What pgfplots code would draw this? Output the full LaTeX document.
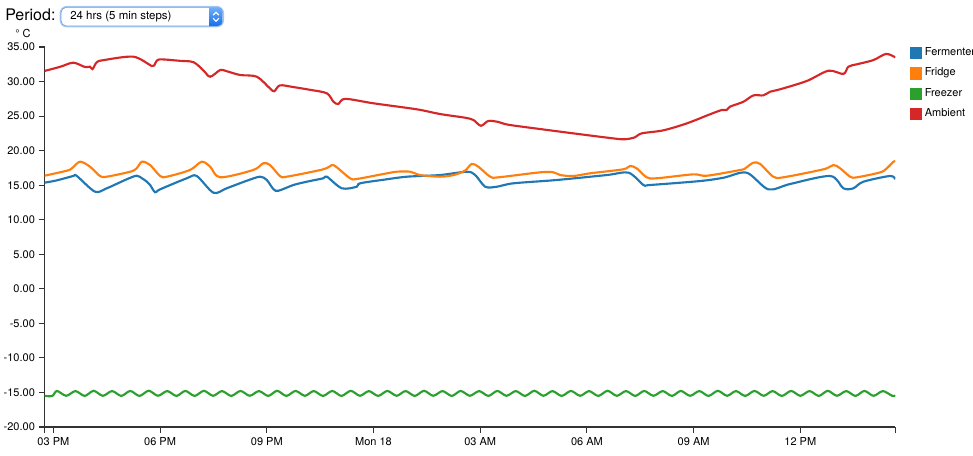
\documentclass[border=0pt]{standalone}
\usepackage{fontspec}
\setmainfont{TeX Gyre Heros}
\usepackage{pgfplots}
\pgfplotsset{compat=1.18}
\definecolor{cBlue}{HTML}{1F77B4}
\definecolor{cOrange}{HTML}{FF7F0E}
\definecolor{cGreen}{HTML}{2CA02C}
\definecolor{cRed}{HTML}{D62728}
\definecolor{axisgray}{HTML}{333333}
\newcommand{\px}{\fontsize{8.25pt}{9.9pt}\selectfont}
\begin{document}
\begin{tikzpicture}[x=0.75pt,y=0.75pt]
% Period selector
\node[anchor=base west, inner sep=0pt, font=\fontsize{12pt}{14pt}\selectfont] at (5,434.3) {Period:};
\draw[rounded corners=4.5pt, line width=2.2pt, color={rgb,255:red,170;green,205;blue,245}] (61,429) rectangle (222.7,447.7);
\fill[white, rounded corners=4pt] (61,429) rectangle (222.7,447.7);
\draw[rounded corners=4pt, line width=0.5pt, color={rgb,255:red,110;green,160;blue,225}] (61,429) rectangle (222.7,447.7);
\begin{scope}
\clip[rounded corners=4pt] (61,429) rectangle (222.7,447.7);
\shade[top color={rgb,255:red,110;green,175;blue,250}, bottom color={rgb,255:red,20;green,110;blue,235}] (209,429) rectangle (222.7,447.7);
\end{scope}
\draw[white, line width=0.9pt, line cap=round, line join=round] (213.3,440)--(216,442.8)--(218.7,440);
\draw[white, line width=0.9pt, line cap=round, line join=round] (213.3,436.6)--(216,433.8)--(218.7,436.6);
\node[anchor=base west, inner sep=0pt, font=\fontsize{8.6pt}{10pt}\selectfont] at (70,436) {24 hrs (5 min steps)};
% unit
\node[anchor=base west, inner sep=0pt, font=\px] at (15,418) {° C};
\coordinate (AxisSW) at (44.5,28);
\begin{axis}[
  at={(AxisSW)}, anchor=south west,
  scale only axis, width=638.1pt, height=285pt,
  xmin=-0.25, xmax=23.67, ymin=-20, ymax=35,
  axis lines=left,
  axis line style={-, draw=axisgray, line width=1.2pt},
  tick align=outside,
  major tick length=4.5pt,
  tick style={draw=axisgray, line width=0.8pt},
  xtick={0,3,...,21},
  xticklabels={03 PM,06 PM,09 PM,Mon 18,03 AM,06 AM,09 AM,12 PM},
  extra x ticks={-0.25,23.67},
  extra x tick labels={},
  ytick={-20,-15,...,35},
  yticklabels={-20.00,-15.00,-10.00,-5.00,0.00,5.00,10.00,15.00,20.00,25.00,30.00,35.00},
  tick label style={font=\px},
  yticklabel style={anchor=east, inner sep=0pt, xshift=-2.5pt},
  xticklabel style={anchor=north, inner sep=0pt, yshift=-3.3pt},
  clip=true,
  every axis plot/.append style={line width=1.6pt, smooth, tension=0.5},
  legend style={at={(1.0173,1)}, anchor=north west, draw=none, fill=none,
    inner sep=0pt, font=\px, row sep=6pt, column sep=1.8pt,
    nodes={inner sep=0pt, text height=5.6pt, text depth=1.9pt}},
  legend cell align=left,
  legend image code/.code={\fill[#1] (0pt,-3.75pt) rectangle (7.5pt,3.75pt);},
]
% Fermenter
\addplot[cBlue] coordinates {
(-0.25,15.36) (0.1,15.7) (0.56,16.33) (0.66,16.33) (1.17,14.06) (1.50,14.55) (2.06,15.85) (2.34,16.37)
(2.49,16.0) (2.63,15.5) (2.72,15.03) (2.86,13.97) (3.00,14.4) (3.75,16.0) (4.03,16.33) (4.50,13.91)
(4.87,14.55) (5.44,15.65) (5.81,16.23) (6.00,15.75) (6.19,14.4) (6.33,14.2) (6.75,15.03) (7.12,15.5)
(7.59,16.0) (7.69,16.23) (8.11,14.55) (8.53,14.78) (8.62,15.27) (9.3,15.8) (9.94,16.23) (10.87,16.47)
(11.62,16.95) (11.86,16.47) (12.14,14.78) (12.47,14.78) (12.93,15.27) (14.15,15.75) (15.56,16.47)
(16.17,16.81) (16.59,15.03) (16.78,15.03) (18.18,15.6) (18.84,16.08) (19.49,16.81) (20.10,14.4)
(20.71,15.17) (21.84,16.33) (22.21,14.55) (22.49,14.55) (22.77,15.5) (23.52,16.33) (23.67,15.85)
};
\addlegendentry{Fermenter}
% Fridge
\addplot[cOrange] coordinates {
(-0.25,16.37) (0.38,17.1) (0.52,17.44) (0.75,18.4) (1.03,17.67) (1.31,16.33) (1.50,16.23) (2.16,16.95)
(2.34,17.44) (2.49,18.4) (2.72,17.92) (3.00,16.33) (3.19,16.23) (3.84,17.2) (4.17,18.4) (4.41,17.67)
(4.69,16.14) (5.62,17.2) (5.90,18.17) (6.09,17.92) (6.37,16.33) (6.56,16.23) (7.59,17.3) (7.83,17.92)
(7.97,17.58) (8.34,16.0) (8.53,15.9) (9.28,16.62) (9.65,16.95) (10.03,16.95) (10.31,16.47) (10.87,16.23)
(11.25,16.47) (11.57,17.1) (11.76,18.07) (11.95,17.67) (12.28,16.23) (12.51,16.14) (13.68,16.86)
(14.06,16.86) (14.25,16.47) (14.62,16.33) (15.09,16.72) (16.02,17.3) (16.21,17.78) (16.40,17.44)
(16.68,16.14) (16.96,16.0) (17.99,16.57) (18.37,16.37) (19.31,17.2) (19.45,17.44) (19.68,18.26)
(19.87,18.07) (20.24,16.23) (20.52,16.14) (21.65,17.3) (21.93,17.92) (22.12,17.44) (22.40,16.23)
(22.59,16.14) (23.25,16.86) (23.43,17.44) (23.62,18.4) (23.67,18.5)
};
\addlegendentry{Fridge}
% Freezer
\addplot[cGreen] coordinates {
(-0.25,-15.5) (-0.03,-15.5) (0.10,-14.78) (0.36,-15.48) (0.62,-14.8) (0.88,-15.5) (1.13,-14.76)
(1.39,-15.48) (1.65,-14.8) (1.91,-15.5) (2.16,-14.78) (2.42,-15.5) (2.68,-14.75) (2.94,-15.48)
(3.20,-14.8) (3.46,-15.5) (3.71,-14.78) (3.97,-15.5) (4.23,-14.76) (4.49,-15.48) (4.74,-14.8)
(5.00,-15.5) (5.26,-14.78) (5.52,-15.48) (5.78,-14.8) (6.04,-15.5) (6.29,-14.76) (6.55,-15.5)
(6.81,-14.78) (7.07,-15.48) (7.32,-14.8) (7.58,-15.5) (7.84,-14.78) (8.10,-15.5) (8.36,-14.76)
(8.62,-15.48) (8.87,-14.8) (9.13,-15.5) (9.39,-14.78) (9.65,-15.48) (9.90,-14.8) (10.16,-15.5)
(10.42,-14.76) (10.68,-15.48) (10.94,-14.8) (11.20,-15.5) (11.45,-14.78) (11.71,-15.48) (11.97,-14.8)
(12.23,-15.5) (12.48,-14.78) (12.74,-15.48) (13.00,-14.8) (13.26,-15.5) (13.52,-14.76) (13.78,-15.48)
(14.03,-14.8) (14.29,-15.5) (14.55,-14.78) (14.81,-15.48) (15.06,-14.8) (15.32,-15.5) (15.58,-14.76)
(15.84,-15.48) (16.10,-14.8) (16.36,-15.5) (16.61,-14.78) (16.87,-15.48) (17.13,-14.8) (17.39,-15.5)
(17.64,-14.78) (17.90,-15.48) (18.16,-14.8) (18.42,-15.5) (18.68,-14.76) (18.94,-15.48) (19.19,-14.8)
(19.45,-15.5) (19.71,-14.78) (19.97,-15.48) (20.22,-14.8) (20.48,-15.5) (20.74,-14.78) (21.00,-15.48)
(21.26,-14.8) (21.52,-15.5) (21.77,-14.76) (22.03,-15.48) (22.29,-14.8) (22.55,-15.5) (22.80,-14.78)
(23.06,-15.48) (23.32,-14.8) (23.58,-15.48) (23.67,-15.45)
};
\addlegendentry{Freezer}
% Ambient
\addplot[cRed] coordinates {
(-0.25,31.53) (0.2,32.15) (0.56,32.73) (0.89,32.1) (1.03,32.15) (1.10,31.8) (1.22,32.8) (1.41,33.1)
(2.25,33.6) (2.77,32.25) (2.86,32.6) (2.98,33.2) (3.56,33.0) (3.94,32.8) (4.22,31.6) (4.41,30.7)
(4.69,31.67) (4.87,31.5) (5.25,30.95) (5.72,30.7) (6.09,29.0) (6.21,28.6) (6.37,29.45) (6.75,29.2)
(7.22,28.8) (7.69,28.3) (7.87,27.1) (8.01,26.75) (8.20,27.5) (9.00,26.85) (10.22,25.98) (10.87,25.3)
(11.57,24.77) (11.81,24.43) (12.02,23.6) (12.23,24.3) (12.51,24.15) (12.79,23.75) (13.68,23.13)
(14.62,22.5) (15.65,21.83) (16.05,21.64) (16.35,21.93) (16.54,22.5) (17.15,22.94) (17.81,23.95)
(18.46,25.26) (18.79,25.88) (18.93,25.88) (19.02,26.36) (19.40,27.08) (19.68,28.0) (19.96,28.0)
(20.15,28.53) (20.43,28.88) (21.18,30.08) (21.79,31.57) (22.21,31.1) (22.35,32.15) (22.59,32.5)
(23.05,33.1) (23.41,34.0) (23.67,33.5)
};
\addlegendentry{Ambient}
\end{axis}
\pgfresetboundingbox
\useasboundingbox (0,0) rectangle (973,455);
\end{tikzpicture}
\end{document}
